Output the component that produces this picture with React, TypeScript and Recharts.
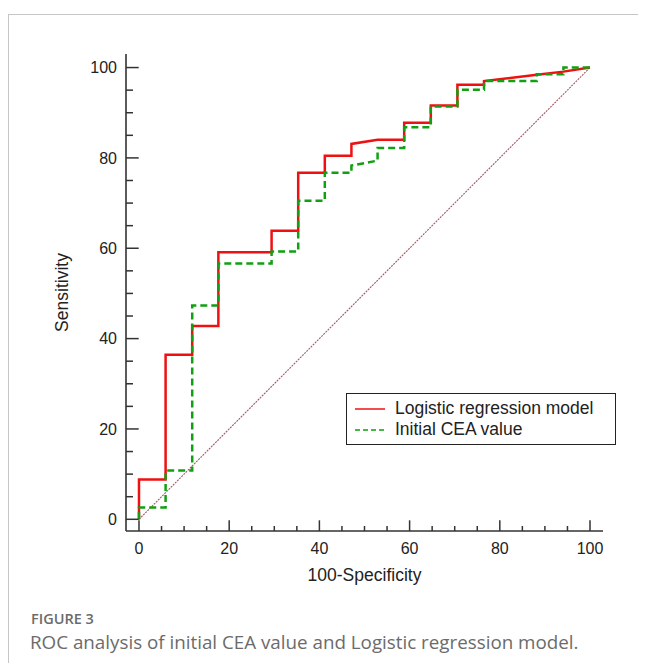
import React from 'react';
import { LineChart, Line, XAxis, YAxis, Legend } from 'recharts';

// ---- data ----
const xTicks = [0, 5, 10, 15, 20, 25, 30, 35, 40, 45, 50, 55, 60, 65, 70, 75, 80, 85, 90, 95, 100];
const yTicks = [0, 5, 10, 15, 20, 25, 30, 35, 40, 45, 50, 55, 60, 65, 70, 75, 80, 85, 90, 95, 100];
const majorTicks = [0, 20, 40, 60, 80, 100];
const seriesNames = ['Logistic regression model', 'Initial CEA value'];

const logisticX = [0, 0, 5.9, 5.9, 11.8, 11.8, 17.6, 17.6, 29.4, 29.4, 35.3, 35.3, 41.2, 41.2, 47.1, 47.1, 52.9, 58.8, 58.8, 64.7, 64.7, 70.6, 70.6, 76.5, 76.5, 88.2, 94.1, 100];
const logisticY = [0, 8.8, 8.8, 36.4, 36.4, 42.8, 42.8, 59.1, 59.1, 63.9, 63.9, 76.7, 76.7, 80.5, 80.5, 83.1, 84.0, 84.0, 87.8, 87.8, 91.6, 91.6, 96.2, 96.2, 97.0, 98.4, 99.1, 100];

const ceaX = [0, 0, 5.9, 5.9, 11.8, 11.8, 17.6, 17.6, 29.4, 29.4, 35.3, 35.3, 41.2, 41.2, 47.1, 47.1, 52.9, 52.9, 58.8, 58.8, 64.7, 64.7, 70.6, 70.6, 76.5, 76.5, 88.2, 88.2, 94.1, 94.1, 100];
const ceaY = [0, 2.6, 2.6, 10.8, 10.8, 47.3, 47.3, 56.6, 56.6, 59.3, 59.3, 70.5, 70.5, 76.7, 76.7, 78.3, 79.4, 82.2, 82.2, 86.8, 86.8, 91.4, 91.4, 95.1, 95.1, 97.0, 97.0, 98.5, 98.5, 100, 100];

const refX = [0, 100];
const refY = [0, 100];

const toPoints = (xs: number[], ys: number[]) => xs.map((x, i) => ({ x, y: ys[i] }));
const logisticData = toPoints(logisticX, logisticY);
const ceaData = toPoints(ceaX, ceaY);
const refData = toPoints(refX, refY);

const FONT = '"Liberation Sans", Arial, sans-serif';

const XTick = (props: any) => {
  const { x, y, payload } = props;
  const major = majorTicks.includes(payload.value);
  return (
    <g>
      <line x1={x} y1={y} x2={x} y2={y - (major ? 10.7 : 5)} stroke="#333" strokeWidth={1.5} />
      {major && (
        <text x={x} y={y + 23} textAnchor="middle" fontSize={16} fontFamily={FONT} fill="#222">
          {payload.value}
        </text>
      )}
    </g>
  );
};

const YTick = (props: any) => {
  const { x, y, payload } = props;
  const major = majorTicks.includes(payload.value);
  return (
    <g>
      <line x1={x} y1={y} x2={x + (major ? 12.7 : 7)} y2={y} stroke="#333" strokeWidth={1.5} />
      {major && (
        <text x={x - 9} y={y + 5.8} textAnchor="end" fontSize={16} fontFamily={FONT} fill="#222">
          {payload.value}
        </text>
      )}
    </g>
  );
};

const XLabel = (props: any) => {
  const vb = props.viewBox || {};
  return (
    <text x={vb.x + vb.width / 2} y={vb.y + 50} textAnchor="middle" fontSize={17.5} fontFamily={FONT} fill="#222">
      100-Specificity
    </text>
  );
};

const YLabel = (props: any) => {
  const vb = props.viewBox || {};
  const cx = vb.x + vb.width - 64;
  const cy = vb.y + vb.height / 2;
  return (
    <text x={cx} y={cy} transform={`rotate(-90 ${cx} ${cy})`} textAnchor="middle" dominantBaseline="central" fontSize={17.5} fontFamily={FONT} fill="#222">
      Sensitivity
    </text>
  );
};

const LegendBox = (props: any) => {
  const items = (props.payload || [])
    .filter((p: any) => p.type !== 'none' && seriesNames.includes(p.value))
    .sort((a: any, b: any) => seriesNames.indexOf(a.value) - seriesNames.indexOf(b.value));
  return (
    <div
      style={{
        border: '1.2px solid #222',
        background: '#fff',
        width: 270,
        height: 52,
        boxSizing: 'border-box',
        paddingTop: 4,
      }}
    >
      {items.map((p: any, i: number) => (
        <div key={i} style={{ display: 'flex', alignItems: 'center', height: 21 }}>
          <svg width={48} height={10} style={{ flex: 'none' }}>
            <line
              x1={8}
              y1={5}
              x2={38}
              y2={5}
              stroke={p.color}
              strokeWidth={1.5}
              strokeDasharray={i === 1 ? '5 3' : undefined}
            />
          </svg>
          <span style={{ fontFamily: FONT, fontSize: 17.5, color: '#222', lineHeight: '21px' }}>{p.value}</span>
        </div>
      ))}
    </div>
  );
};

export default function App() {
  return (
    <div style={{ position: 'relative', width: 646, height: 671, margin: -8, background: '#fff', overflow: 'hidden' }}>
      <div
        style={{
          position: 'absolute',
          left: 8,
          top: 14,
          width: 700,
          height: 700,
          borderLeft: '1px solid #c6c6c6',
          borderTop: '1px solid #c6c6c6',
        }}
      />
      <div style={{ position: 'absolute', left: 0, top: 0 }}>
        <LineChart width={646} height={671} margin={{ top: 54, right: 43, bottom: 139, left: 125 }}>
          <XAxis
            type="number"
            dataKey="x"
            domain={[-2.88, 102.88]}
            ticks={xTicks}
            interval={0}
            allowDataOverflow
            height={1}
            tickSize={0}
            tickMargin={0}
            tickLine={false}
            axisLine={{ stroke: '#333', strokeWidth: 1.6 }}
            tick={<XTick />}
            label={<XLabel />}
          />
          <YAxis
            type="number"
            dataKey="y"
            domain={[-2.59, 103.0]}
            ticks={yTicks}
            interval={0}
            allowDataOverflow
            width={1}
            tickSize={0}
            tickMargin={0}
            tickLine={false}
            axisLine={{ stroke: '#333', strokeWidth: 1.6 }}
            tick={<YTick />}
            label={<YLabel />}
          />
          <Legend
            layout="horizontal"
            verticalAlign="middle"
            align="center"
            content={<LegendBox />}
            wrapperStyle={{ left: 346, top: 393, width: 270, height: 52 }}
          />
          <Line
            data={refData}
            dataKey="y"
            type="linear"
            stroke="#a05862"
            strokeWidth={1.1}
            strokeDasharray="2 1"
            dot={false}
            activeDot={false}
            legendType="none"
            isAnimationActive={false}
          />
          <Line
            data={logisticData}
            dataKey="y"
            name="Logistic regression model"
            type="linear"
            stroke="#ee1111"
            strokeWidth={2.5}
            dot={false}
            activeDot={false}
            isAnimationActive={false}
          />
          <Line
            data={ceaData}
            dataKey="y"
            name="Initial CEA value"
            type="linear"
            stroke="#11a011"
            strokeWidth={2.5}
            strokeDasharray="7 4"
            dot={false}
            activeDot={false}
            isAnimationActive={false}
          />
        </LineChart>
      </div>
      <div
        style={{
          position: 'absolute',
          left: 31,
          top: 609,
          fontFamily: '"Open Sans", sans-serif',
          fontWeight: 600,
          fontSize: 14.5,
          color: '#6b6b6b',
          lineHeight: '20px',
        }}
      >
        FIGURE 3
      </div>
      <div
        style={{
          position: 'absolute',
          left: 30,
          top: 629,
          fontFamily: '"Open Sans", sans-serif',
          fontSize: 18.8,
          color: '#6b6b6b',
          lineHeight: '26px',
          whiteSpace: 'nowrap',
        }}
      >
        ROC analysis of initial CEA value and Logistic regression model.
      </div>
    </div>
  );
}
